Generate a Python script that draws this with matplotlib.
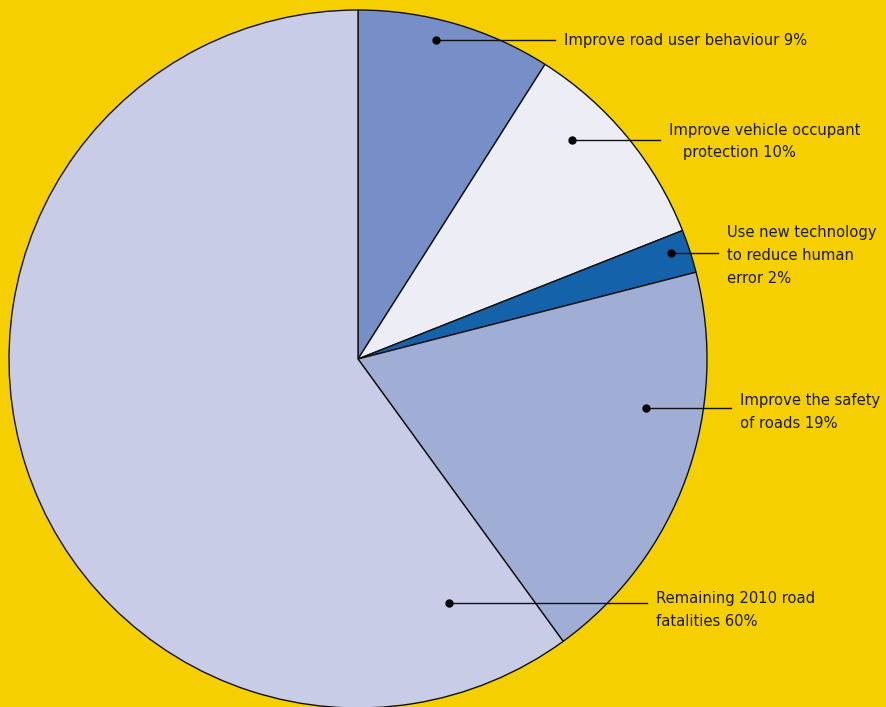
import matplotlib.pyplot as plt

# share of 2010 road fatalities by measure
labels = [
    "Improve road user behaviour 9%",
    "Improve vehicle occupant\n   protection 10%",
    "Use new technology\nto reduce human\nerror 2%",
    "Improve the safety\nof roads 19%",
    "Remaining 2010 road\nfatalities 60%",
]
shares = [9, 10, 2, 19, 60]
colors = ["#778fc6", "#ededf6", "#1462aa", "#a0aed6", "#c8cce6"]

# callout layout in pixels from the top-left corner: dot x, dot y, text x
callouts = [
    (436, 40, 564),
    (572, 140, 669),
    (671, 253, 727),
    (646, 408, 740),
    (449, 603, 656),
]
# y of the first text line relative to the dot
first_line = [0, -10, -20, -7, -4]

W, H = 887, 707
bg = "#f5cf00"

fig = plt.figure(figsize=(W / 100, H / 100), dpi=100, facecolor=bg)
ax = fig.add_axes([0, 0, 1, 1])
ax.set_facecolor(bg)

ax.pie(
    shares,
    colors=colors,
    startangle=90,
    counterclock=False,
    center=(358, H - 359),
    radius=349,
    wedgeprops=dict(edgecolor="#111111", linewidth=1.0),
    frame=True,
)
ax.set_xlim(0, W)
ax.set_ylim(0, H)
ax.set_aspect("equal")
ax.axis("off")

for text, (dx, dy, tx), off in zip(labels, callouts, first_line):
    y = H - dy
    ax.plot([dx, tx - 9], [y, y], color="#111111", lw=1.0, zorder=5)
    ax.plot(dx, y, "o", color="#000000", ms=5, zorder=6)
    for i, line in enumerate(text.split("\n")):
        ax.text(tx, y - off - i * 23, line, ha="left", va="center",
                fontsize=11.8, family="DejaVu Sans", fontstretch="condensed",
                color="#1a1a1a", zorder=6)

fig.savefig("out.png", dpi=100, facecolor=bg)
